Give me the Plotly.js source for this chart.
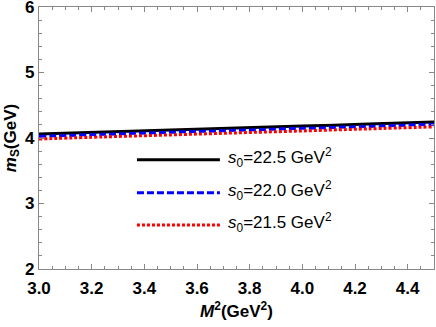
<!DOCTYPE html>
<html>
<head>
<meta charset="utf-8">
<script src="https://cdn.plot.ly/plotly-3.0.1.min.js"></script>
<style>
  html, body { margin: 0; padding: 0; background: #fff; }
  #chart { width: 436px; height: 327px; }
</style>
</head>
<body>
<div id="chart"></div>
<script>
// Borel mass M^2 (GeV^2) and extracted mass m_S (GeV) for three thresholds s0
const m2 = [3.0, 3.25, 3.5, 3.75, 4.0, 4.25, 4.5];
const mS_225 = [4.060, 4.092, 4.122, 4.152, 4.182, 4.212, 4.245];
const mS_220 = [4.025, 4.057, 4.087, 4.117, 4.147, 4.177, 4.210];
const mS_215 = [3.985, 4.017, 4.047, 4.078, 4.108, 4.139, 4.170];
const seriesNames = ["22.5", "22.0", "21.5"];
const colors = ["#000000", "#0000ff", "#ff0000"];
const dashes = ["solid", "7px,3px", "3px,2px"];

const ys = [mS_225, mS_220, mS_215];
const traces = ys.map((y, i) => ({
    x: m2, y: y,
    type: "scatter", mode: "lines",
    line: { color: colors[i], width: 3, dash: dashes[i], shape: "spline" },
    showlegend: false, hoverinfo: "x+y"
}));

// hand-made legend (long sample lines like the original)
const legY = [0.417, 0.291, 0.168];
const shapes = legY.map((yy, i) => ({
    type: "line", xref: "paper", yref: "paper",
    x0: 0.248, x1: 0.458, y0: yy, y1: yy,
    line: { color: colors[i], width: 3, dash: dashes[i] }
}));
const annotations = legY.map((yy, i) => ({
    xref: "paper", yref: "paper", x: 0.474, y: yy + 0.008,
    xanchor: "left", yanchor: "middle", showarrow: false,
    text: "<i>s</i><sub>0</sub>=" + seriesNames[i] + " GeV<sup>2</sup>",
    font: { family: "Liberation Sans, Arial", size: 17, color: "#000" }
}));

const boldFont = { family: "Liberation Sans, Arial", size: 17, color: "#000", weight: "bold" };
const axisCommon = {
    showgrid: false, zeroline: false,
    showline: true, linecolor: "#888", linewidth: 1.2, mirror: "ticks",
    ticks: "inside", ticklen: 5, tickwidth: 1, tickcolor: "#888",
    ticklabeloverflow: "allow",
    tickfont: boldFont
};

Plotly.newPlot("chart", traces, {
    width: 436, height: 327,
    paper_bgcolor: "#fff", plot_bgcolor: "#fff",
    margin: { l: 39, r: 2, t: 7, b: 58 },
    xaxis: Object.assign({}, axisCommon, {
        range: [3.0, 4.5], dtick: 0.2, tick0: 3.0, tickformat: ".1f",
        ticklabelstandoff: 3,
        minor: { dtick: 0.05, ticks: "inside", ticklen: 3, tickcolor: "#888" },
        title: { text: "<i>M</i><sup>2</sup>(GeV<sup>2</sup>)", standoff: 8, font: boldFont }
    }),
    yaxis: Object.assign({}, axisCommon, {
        range: [2, 6], dtick: 1,
        minor: { dtick: 0.2, ticks: "inside", ticklen: 3, tickcolor: "#888" },
        title: { text: "<i>m</i><sub>S</sub>(GeV)", standoff: 4, font: boldFont }
    }),
    shapes: shapes,
    annotations: annotations
}, { displayModeBar: false, staticPlot: true });
</script>
</body>
</html>
